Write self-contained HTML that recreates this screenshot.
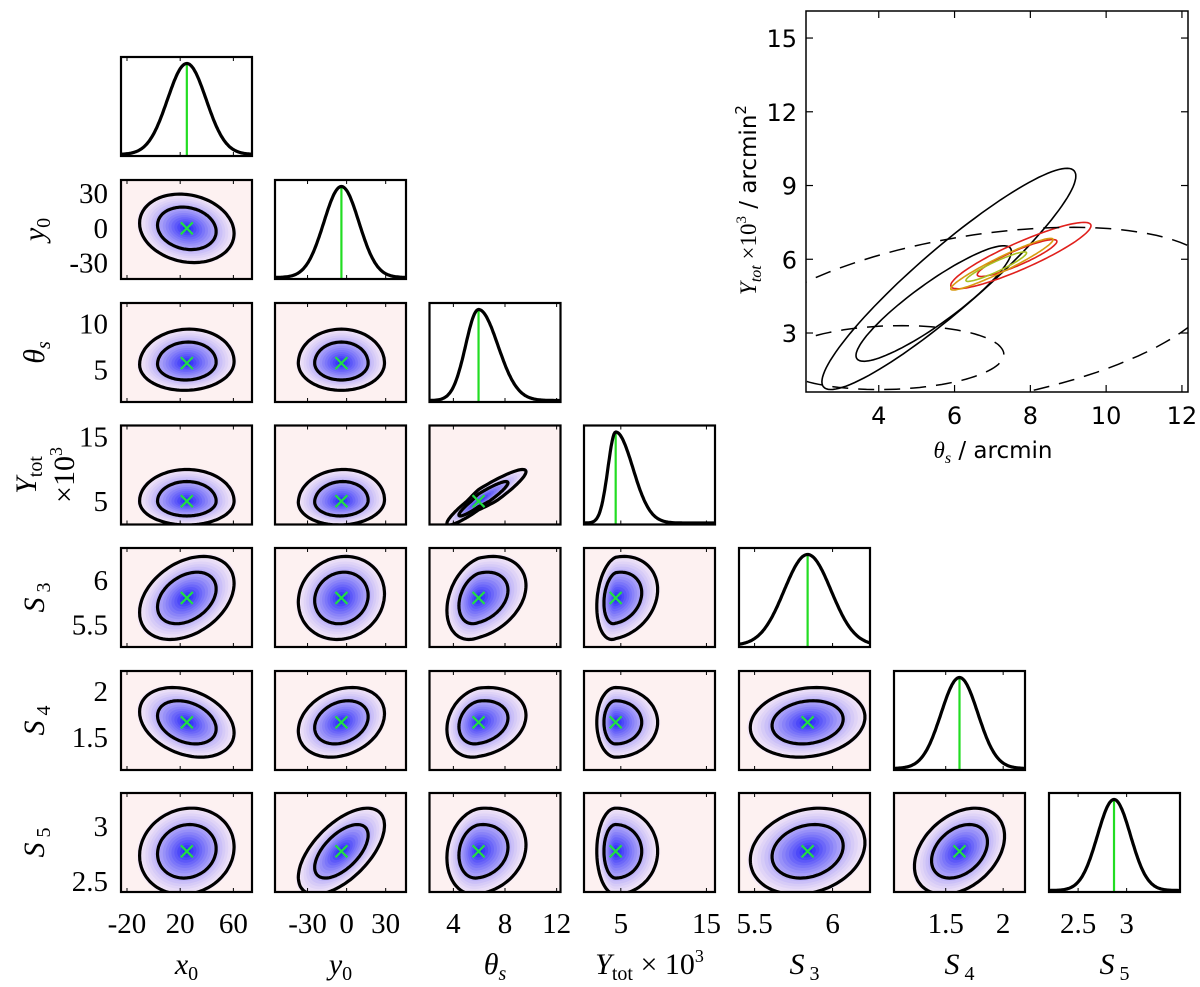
<!DOCTYPE html>
<html><head><meta charset="utf-8"><style>
html,body{margin:0;padding:0;background:#fff;}
svg{display:block;}
.serif{font-family:"Liberation Serif",serif;}
.sans{font-family:"DejaVu Sans","Liberation Sans",sans-serif;}
</style></head><body>
<svg id="chart" width="1200" height="987" viewBox="0 0 1200 987" xmlns="http://www.w3.org/2000/svg"></svg>
<script>
// ---------- data ----------
const paramNames = ["x0","y0","thetas","Ytot","S3","S4","S5"];
const meanCol = [25, -4, 5.95, 4.4, 5.84, 1.62, 2.87];
const sigColL = [14.5, 13.5, 1.0, 0.9, 0.15, 0.16, 0.17];
const sigColR = [14.5, 13.5, 1.5, 2.0, 0.15, 0.16, 0.17];
const meanRow = [0, -0.5, 5.7, 5.0, 5.80, 1.66, 2.77];
const sigRowL = [0, 12, 1.2, 1.5, 0.19, 0.155, 0.16];
const sigRowR = [0, 12, 1.5, 2.0, 0.19, 0.155, 0.16];
const truthCol = [25, -4, 5.95, 4.4, 5.84, 1.62, 2.87];
const truthRow = [0, -0.5, 5.7, 5.0, 5.80, 1.66, 2.77];
const corr = [
  [],
  [-0.15],
  [0.05, 0.0],
  [0.0, 0.05, 0.93],
  [0.35, 0.1, 0.3, 0.2],
  [-0.3, 0.25, 0.2, 0.0, 0.15],
  [0.1, 0.6, 0.15, 0.0, 0.2, 0.35]
];
const xMin = [-24.5, -55, 2.15, 0.7, 5.40, 1.05, 2.2];
const xMax = [74, 45.6, 12.3, 16.0, 6.24, 2.19, 3.55];
const yMin = [0, -44, 1.5, 1.4, 5.25, 1.14, 2.4];
const yMax = [1, 41, 12.2, 16.7, 6.36, 2.22, 3.3];
const xTicks = [[-20,20,60],[-30,0,30],[4,8,12],[5,15],[5.5,6],[1.5,2],[2.5,3]];
const yTicks = [[],[30,0,-30],[10,5],[15,5],[6,5.5],[2,1.5],[3,2.5]];
const contourLevels = [1.52, 2.45];

// inset data
const insetXTicks = [4,6,8,10,12];
const insetYTicks = [3,6,9,12,15];
const insetContours = [
  {cx:5.85, cy:5.2, sx:3.35, sy:4.5, rho:0.93, color:"#000", dash:"", w:1.6},
  {cx:5.45, cy:4.2, sx:2.05, sy:2.35, rho:0.9, color:"#000", dash:"", w:1.6},
  {cx:7.75, cy:6.15, sx:1.85, sy:1.35, rho:0.9, color:"#e0201c", dash:"", w:1.6},
  {cx:7.65, cy:6.05, sx:1.05, sy:0.75, rho:0.9, color:"#e0201c", dash:"", w:1.6},
  {cx:7.25, cy:5.8, sx:1.35, sy:1.05, rho:0.95, color:"#d89a10", dash:"", w:1.6},
  {cx:7.1, cy:5.7, sx:0.8, sy:0.6, rho:0.93, color:"#a8c020", dash:"", w:1.6},
  {cx:6.5, cy:3.6, sx:6.5, sy:3.7, rho:0.4, color:"#000", dash:"16,10", w:1.5},
  {cx:4.3, cy:2.0, sx:3.0, sy:1.3, rho:0.1, color:"#000", dash:"16,10", w:1.5}
];

// ---------- layout ----------
const colX = [121, 275, 429.5, 584, 739, 894, 1049];
const rowY = [57, 180, 303, 425.5, 548, 671, 793];
const PW = 131, PH = 99;
const NS = "http://www.w3.org/2000/svg";
const svg = document.getElementById("chart");
function mk(tag, attrs, parent){ const e=document.createElementNS(NS,tag); for(const k in attrs) e.setAttribute(k,attrs[k]); (parent||svg).appendChild(e); return e; }
function xs(j,v){ return colX[j] + (v - xMin[j])/(xMax[j]-xMin[j])*PW; }
function ys(i,v){ return rowY[i] + (yMax[i]-v)/(yMax[i]-yMin[i])*PH; }

const defs = mk("defs",{});
function clipFor(id,x,y,w,h){ const c=mk("clipPath",{id:id},defs); mk("rect",{x:x,y:y,width:w,height:h},c); }

function contourPts(mx,my,sxl,sxr,syl,syr,rho,k,X,Y){
  const pts=[]; const n=120; const q=Math.sqrt(1-rho*rho);
  for(let s=0;s<n;s++){ const a=s/n*2*Math.PI; const u=Math.cos(a), w=Math.sin(a);
    const z1=k*u, z2=k*(rho*u+q*w);
    const x=mx+z1*(z1>0?sxr:sxl), y=my+z2*(z2>0?syr:syl);
    pts.push(X(x).toFixed(1)+","+Y(y).toFixed(1)); }
  return "M"+pts.join("L")+"Z";
}
function mixColor(t){ const a=[251,238,247], b=[20,20,250]; const c=a.map((v,i)=>Math.round(v+(b[i]-v)*t)); return "rgb("+c.join(",")+")"; }

// ---------- corner panels ----------
for(let i=0;i<7;i++){
  for(let j=0;j<=i;j++){
    const g=mk("g",{});
    
    
    const id="cp"+i+"_"+j; clipFor(id,colX[j],rowY[i],PW,PH);
    const X=v=>xs(j,v);
    if(i===j){
      mk("rect",{x:colX[j],y:rowY[i],width:PW,height:PH,fill:"#fff"},g);
      const pts=[]; const n=140;
      for(let s=0;s<=n;s++){ const v=xMin[j]+(xMax[j]-xMin[j])*s/n; const sg=v<meanCol[j]?sigColL[j]:sigColR[j];
        const d=Math.exp(-0.5*Math.pow((v-meanCol[j])/sg,2));
        pts.push(X(v).toFixed(1)+","+(rowY[i]+PH-1.5-d*(PH-8)).toFixed(1)); }
      const cl=mk("g",{"clip-path":"url(#"+id+")"},g);
      const tl=mk("line",{x1:X(truthCol[j]),x2:X(truthCol[j]),y1:rowY[i]+6,y2:rowY[i]+PH,stroke:"#22dd22","stroke-width":2.2},cl);
      
      
      const mp=mk("path",{d:"M"+pts.join("L"),fill:"none",stroke:"#000","stroke-width":3.2,"stroke-linejoin":"round"},cl);
      
      
    } else {
      mk("rect",{x:colX[j],y:rowY[i],width:PW,height:PH,fill:"#fdf1f1"},g);
      const Y=v=>ys(i,v);
      const rho=corr[i][j];
      const cl=mk("g",{"clip-path":"url(#"+id+")"},g);
      for(let k=2.6;k>0.15;k-=0.15){
        const t=Math.pow(Math.max(0,1-k/2.75),1.4);
        mk("path",{d:contourPts(meanCol[j],meanRow[i],sigColL[j],sigColR[j],sigRowL[i],sigRowR[i],rho,k,X,Y),fill:mixColor(t),stroke:"none"},cl);
      }
      contourLevels.forEach(k=>{
        const p=mk("path",{d:contourPts(meanCol[j],meanRow[i],sigColL[j],sigColR[j],sigRowL[i],sigRowR[i],rho,k,X,Y),fill:"none",stroke:"#000","stroke-width":3.2},cl);
        
        
      });
      const cx=X(truthCol[j]), cy=Y(truthRow[i]), r=6;
      const mkx=mk("path",{d:`M${cx-r},${cy-r}L${cx+r},${cy+r}M${cx-r},${cy+r}L${cx+r},${cy-r}`,stroke:"#22dd44","stroke-width":2.2},cl);
      
      
    }
    xTicks[j].forEach(v=>{ const x=X(v); if(x>colX[j]&&x<colX[j]+PW){ mk("line",{x1:x,x2:x,y1:rowY[i]+PH,y2:rowY[i]+PH-4,stroke:"#000","stroke-width":1},g); mk("line",{x1:x,x2:x,y1:rowY[i],y2:rowY[i]+4,stroke:"#000","stroke-width":1},g);} });
    mk("rect",{x:colX[j],y:rowY[i],width:PW,height:PH,fill:"none",stroke:"#000","stroke-width":2.2},g);
  }
}

for(let i=1;i<7;i++){
  yTicks[i].forEach(v=>{
    const t=mk("text",{x:108,y:ys(i,v)+10,"text-anchor":"end","font-size":29,class:"serif"});
    t.textContent=String(v);
    
    
  });
}
for(let j=0;j<7;j++){
  xTicks[j].forEach(v=>{
    const t=mk("text",{x:xs(j,v),y:933,"text-anchor":"middle","font-size":29,class:"serif"});
    t.textContent=String(v);
    
    
  });
}
const xTitles=[
  '<tspan font-style="italic">x</tspan><tspan font-size="20" dy="6">0</tspan>',
  '<tspan font-style="italic">y</tspan><tspan font-size="20" dy="6">0</tspan>',
  '<tspan font-style="italic">θ</tspan><tspan font-size="20" dy="6" font-style="italic">s</tspan>',
  '<tspan font-style="italic">Y</tspan><tspan font-size="20" dy="6">tot</tspan><tspan dy="-6"> × 10</tspan><tspan font-size="18" dy="-12">3</tspan>',
  '<tspan font-style="italic">S</tspan><tspan font-size="20" dy="6"> 3</tspan>',
  '<tspan font-style="italic">S</tspan><tspan font-size="20" dy="6"> 4</tspan>',
  '<tspan font-style="italic">S</tspan><tspan font-size="20" dy="6"> 5</tspan>'];
xTitles.forEach((h,j)=>{
  const t=mk("text",{x:colX[j]+PW/2,y:974,"text-anchor":"middle","font-size":30,class:"serif"});
  t.innerHTML=h;
  
  
});
const yTitles=[null,
  '<tspan font-style="italic">y</tspan><tspan font-size="20" dy="6">0</tspan>',
  '<tspan font-style="italic">θ</tspan><tspan font-size="20" dy="6" font-style="italic">s</tspan>',
  null,
  '<tspan font-style="italic">S</tspan><tspan font-size="20" dy="6"> 3</tspan>',
  '<tspan font-style="italic">S</tspan><tspan font-size="20" dy="6"> 4</tspan>',
  '<tspan font-style="italic">S</tspan><tspan font-size="20" dy="6"> 5</tspan>'];
for(let i=1;i<7;i++){
  const cy=rowY[i]+PH/2;
  if(yTitles[i]){
    const t=mk("text",{x:0,y:0,"text-anchor":"middle","font-size":30,class:"serif",transform:`translate(44,${cy}) rotate(-90)`});
    t.innerHTML=yTitles[i];
    
    
  } else {
    const t=mk("text",{x:0,y:0,"text-anchor":"middle","font-size":30,class:"serif",transform:`translate(36,${cy}) rotate(-90)`});
    t.innerHTML='<tspan font-style="italic">Y</tspan><tspan font-size="20" dy="6">tot</tspan>';
    
    
    const t2=mk("text",{x:0,y:0,"text-anchor":"middle","font-size":30,class:"serif",transform:`translate(74,${cy}) rotate(-90)`});
    t2.innerHTML='×10<tspan font-size="18" dy="-12">3</tspan>';
    
    
  }
}

// ---------- inset ----------
const IX0=806, IX1=1188, IY0=11, IY1=392;
const ixMin=2.08, ixMax=12.16, iyMin=0.6, iyMax=16.1;
const IX=v=>IX0+(v-ixMin)/(ixMax-ixMin)*(IX1-IX0);
const IY=v=>IY1-(v-iyMin)/(iyMax-iyMin)*(IY1-IY0);
const ig=mk("g",{});


clipFor("insetclip",IX0,IY0,IX1-IX0,IY1-IY0);
const icl=mk("g",{"clip-path":"url(#insetclip)"},ig);
insetContours.forEach((c,n)=>{
  const p=mk("path",{d:contourPts(c.cx,c.cy,c.sx,c.sx,c.sy,c.sy,c.rho,1,IX,IY),fill:"none",stroke:c.color,"stroke-width":c.w,"stroke-dasharray":c.dash},icl);
  
  
});
mk("rect",{x:IX0,y:IY0,width:IX1-IX0,height:IY1-IY0,fill:"none",stroke:"#000","stroke-width":1.5},ig);
insetXTicks.forEach(v=>{
  const x=IX(v);
  mk("line",{x1:x,x2:x,y1:IY1,y2:IY1-7,stroke:"#000","stroke-width":1.2},ig);
  mk("line",{x1:x,x2:x,y1:IY0,y2:IY0+7,stroke:"#000","stroke-width":1.2},ig);
  const t=mk("text",{x:x,y:424,"text-anchor":"middle","font-size":24,class:"sans"},ig);
  t.textContent=v;
  
  
});
insetYTicks.forEach(v=>{
  const y=IY(v);
  mk("line",{x1:IX0,x2:IX0+7,y1:y,y2:y,stroke:"#000","stroke-width":1.2},ig);
  mk("line",{x1:IX1,x2:IX1-7,y1:y,y2:y,stroke:"#000","stroke-width":1.2},ig);
  const t=mk("text",{x:797,y:y+9,"text-anchor":"end","font-size":24,class:"sans"},ig);
  t.textContent=v;
  
  
});
const ixl=mk("text",{x:993,y:458,"text-anchor":"middle","font-size":23,class:"sans"},ig);
ixl.innerHTML='<tspan class="serif" font-style="italic">θ</tspan><tspan class="serif" font-style="italic" font-size="16" dy="5">s</tspan><tspan dy="-5"> / arcmin</tspan>';


const iyl=mk("text",{x:0,y:0,"text-anchor":"middle","font-size":23,class:"sans",transform:"translate(756,200) rotate(-90)"},ig);
iyl.innerHTML='<tspan class="serif" font-style="italic">Y</tspan><tspan class="serif" font-style="italic" font-size="16" dy="5">tot</tspan><tspan class="serif" dy="-5"> ×10</tspan><tspan class="serif" font-size="15" dy="-10">3</tspan><tspan dy="10">  / arcmin</tspan><tspan font-size="15" dy="-10">2</tspan>';


</script>
</body></html>
